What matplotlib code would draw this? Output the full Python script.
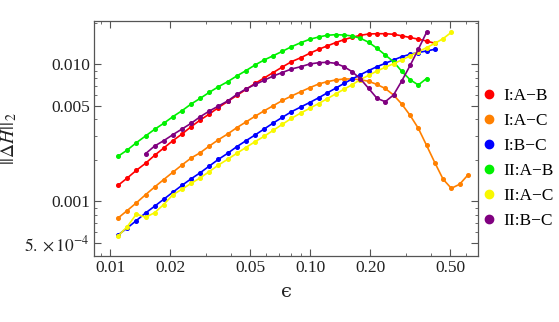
import matplotlib
matplotlib.use('Agg')
import matplotlib.pyplot as plt
from matplotlib.lines import Line2D
from matplotlib.ticker import FixedLocator, FixedFormatter, NullFormatter
import numpy as np

plt.rcParams['font.family'] = ['Liberation Serif', 'DejaVu Serif']
plt.rcParams['mathtext.fontset'] = 'stix'

# epsilon grid shared by all curves
eps = [0.01095, 0.01217, 0.01352, 0.01502, 0.01668, 0.01852, 0.02057, 0.02285,
       0.02539, 0.02820, 0.03132, 0.03479, 0.03864, 0.04292, 0.04768, 0.05296,
       0.05883, 0.06535, 0.07258, 0.08062, 0.08973, 0.09943, 0.1102, 0.1214,
       0.1338, 0.1474, 0.1621, 0.1784, 0.1961, 0.2157, 0.2372, 0.2609,
       0.2868, 0.3157, 0.3471, 0.3816, 0.4199, 0.4617, 0.5076, 0.5587, 0.6142]

I_AB = [0.001308, 0.001479, 0.001684, 0.001894, 0.002167, 0.002449, 0.002770,
        0.003099, 0.003504, 0.003922, 0.004338, 0.004838, 0.005352, 0.005920,
        0.006548, 0.007243, 0.007943, 0.008712, 0.009556, 0.01045, 0.01117,
        0.01203, 0.01287, 0.01360, 0.01438, 0.01512, 0.01575, 0.01628, 0.01664,
        0.01672, 0.01672, 0.01656, 0.01614, 0.01569, 0.01525, 0.01479, 0.01423]

I_AC = [0.000755, 0.000857, 0.000975, 0.001117, 0.001272, 0.001442, 0.001631,
        0.001841, 0.002071, 0.002263, 0.002533, 0.002817, 0.003099, 0.003445,
        0.003792, 0.004173, 0.004576, 0.004987, 0.005443, 0.005870, 0.006310,
        0.006748, 0.007182, 0.007464, 0.007680, 0.007811, 0.007811, 0.007720,
        0.007514, 0.007122, 0.006660, 0.005970, 0.005131, 0.004244, 0.003410,
        0.002563, 0.001913, 0.001450, 0.001244, 0.001333, 0.001556]

I_BC = [0.000568, 0.000639, 0.000724, 0.000822, 0.000921, 0.001036, 0.001165,
        0.001308, 0.001460, 0.001617, 0.001810, 0.002026, 0.002240, 0.002503,
        0.002765, 0.003047, 0.003371, 0.003729, 0.004103, 0.004508, 0.004879,
        0.005262, 0.005695, 0.006171, 0.006682, 0.007243, 0.007811, 0.008396,
        0.009010, 0.009605, 0.01017, 0.01075, 0.01136, 0.01183, 0.01219,
        0.01251, 0.01287]

II_AB = [0.002131, 0.002368, 0.002678, 0.002997, 0.003354, 0.003710, 0.004145,
         0.004584, 0.005131, 0.005647, 0.006246, 0.006863, 0.007464, 0.008215,
         0.008981, 0.009883, 0.01075, 0.01155, 0.01244, 0.01344, 0.01438,
         0.01522, 0.01582, 0.01628, 0.01645, 0.01636, 0.01609, 0.01548, 0.01447,
         0.01309, 0.01169, 0.01045, 0.008890, 0.007720, 0.007064, 0.007876]

II_AC = [0.000558, 0.000653, 0.000808, 0.000764, 0.000826, 0.000948, 0.001117,
         0.001225, 0.001353, 0.001484, 0.001650, 0.001841, 0.002026, 0.002240,
         0.002470, 0.002723, 0.002981, 0.003298, 0.003648, 0.004035, 0.004411,
         0.004774, 0.005174, 0.005600, 0.006068, 0.006571, 0.007097, 0.007745,
         0.008312, 0.008935, 0.009508, 0.01010, 0.01075, 0.01153, 0.01236,
         0.01322, 0.01423, 0.01538, 0.01712]

# II:B-C starts at the 4th epsilon
II_BC_start = 3
II_BC = [0.002226, 0.002533, 0.002770, 0.003063, 0.003371, 0.003710, 0.004145,
         0.004561, 0.004962, 0.005397, 0.006020, 0.006603, 0.007122, 0.007641,
         0.008215, 0.008712, 0.009240, 0.009605, 0.01005, 0.01027, 0.01034,
         0.01017, 0.009605, 0.008831, 0.007811, 0.006660, 0.005647, 0.005333,
         0.005970, 0.007552, 0.009800, 0.01287, 0.01712]

labels = ['I:A\u2212B', 'I:A\u2212C', 'I:B\u2212C', 'II:A\u2212B', 'II:A\u2212C', 'II:B\u2212C']
colors = ['#ff0000', '#ff8000', '#0000ff', '#00f000', '#f8f800', '#800080']

series = [
    (eps[:len(I_AB)], I_AB),
    (eps[:len(I_AC)], I_AC),
    (eps[:len(I_BC)], I_BC),
    (eps[:len(II_AB)], II_AB),
    (eps[:len(II_AC)], II_AC),
    (eps[II_BC_start:II_BC_start + len(II_BC)], II_BC),
]

fig = plt.figure(figsize=(5.59, 3.22), dpi=100)
ax = fig.add_axes([94 / 559, 1 - 256 / 322, (478 - 94) / 559, (256 - 21) / 322])

for (xs, ys), c in zip(series, colors):
    ax.plot(xs, ys, color=c, lw=1.2, marker='o', ms=2.6, mec=c, mfc=c)

ax.set_xscale('log')
ax.set_yscale('log')
ax.set_xlim(0.0083, 0.69)
ax.set_ylim(0.000399, 0.0207)

xmaj = [0.01, 0.02, 0.05, 0.1, 0.2, 0.5]
xlab = ['0.01', '0.02', '0.05', '0.10', '0.20', '0.50']
xmin = [0.009, 0.03, 0.04, 0.06, 0.07, 0.08, 0.09, 0.3, 0.4, 0.6]
ymaj = [0.0005, 0.001, 0.005, 0.01]
ylab = [r'$5.\times10^{-4}$', '0.001', '0.005', '0.010']
ymin = [0.0006, 0.0007, 0.0008, 0.0009, 0.002, 0.003, 0.004,
        0.006, 0.007, 0.008, 0.009, 0.02]

ax.xaxis.set_major_locator(FixedLocator(xmaj))
ax.xaxis.set_major_formatter(FixedFormatter(xlab))
ax.xaxis.set_minor_locator(FixedLocator(xmin))
ax.xaxis.set_minor_formatter(NullFormatter())
ax.yaxis.set_major_locator(FixedLocator(ymaj))
ax.yaxis.set_major_formatter(FixedFormatter(ylab))
ax.yaxis.set_minor_locator(FixedLocator(ymin))
ax.yaxis.set_minor_formatter(NullFormatter())

ax.tick_params(which='both', direction='in', top=True, right=True,
               color='#555555', labelsize=12.5, labelcolor='#222222')
ax.tick_params(which='major', length=5, width=0.8, pad=3)
ax.tick_params(which='minor', length=2.5, width=0.6)
for sp in ax.spines.values():
    sp.set_color('#555555')
    sp.set_linewidth(0.9)

ax.set_xlabel('\u03f5', fontsize=14, color='#222222', labelpad=5,
              family=['DejaVu Serif', 'DejaVu Sans'])
ax.set_ylabel(r'$||\Delta H||_2$', fontsize=14, color='#222222', labelpad=4)

handles = [Line2D([], [], ls='none', marker='o', ms=6, color=c) for c in colors]
fig.legend(handles, labels, loc='center left', bbox_to_anchor=(484 / 559, 1 - 158.5 / 322),
           frameon=False, fontsize=12.5, handlelength=0.6, handletextpad=0.5,
           labelspacing=0.5, borderaxespad=0, borderpad=0)

fig.savefig('out.png', dpi=100)
